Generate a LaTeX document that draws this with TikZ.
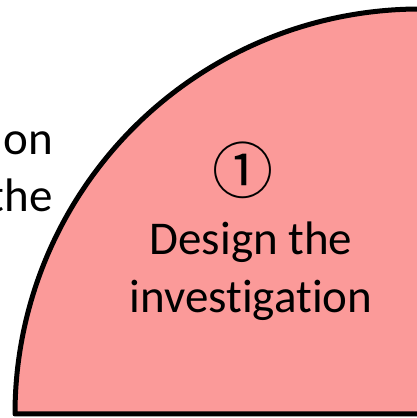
\documentclass[tikz,border=0pt]{standalone}
\usepackage{fontspec}
\setmainfont[Ligatures=NoCommon]{Carlito}
\newfontfamily\symfont{Noto Sans CJK SC}
\definecolor{segpink}{RGB}{251,154,153}
\begin{document}
\begin{tikzpicture}[x=1pt,y=1pt,
  txt/.style={inner sep=0pt, font=\fontsize{47}{56}\selectfont}]
\useasboundingbox (0,0) rectangle (417,418);
\coordinate (ctr) at (420,4);
\filldraw[fill=segpink, draw=black, line width=5pt, line join=round]
  (ctr) -- (15,4) arc[start angle=180, end angle=80, radius=405] -- cycle;
\node[inner sep=0pt, font=\fontsize{61}{64}\selectfont, anchor=center] (num) at (243,248) {\symfont ①};
\node[txt, anchor=base] (l1) at (251,163) {Design the};
\node[txt, anchor=base] (l2) at (251,105) {investigation};
\node[txt, anchor=base east] (o1) at (53,263) {on};
\node[txt, anchor=base east] (o2) at (53,206) {the};
\end{tikzpicture}
\end{document}
